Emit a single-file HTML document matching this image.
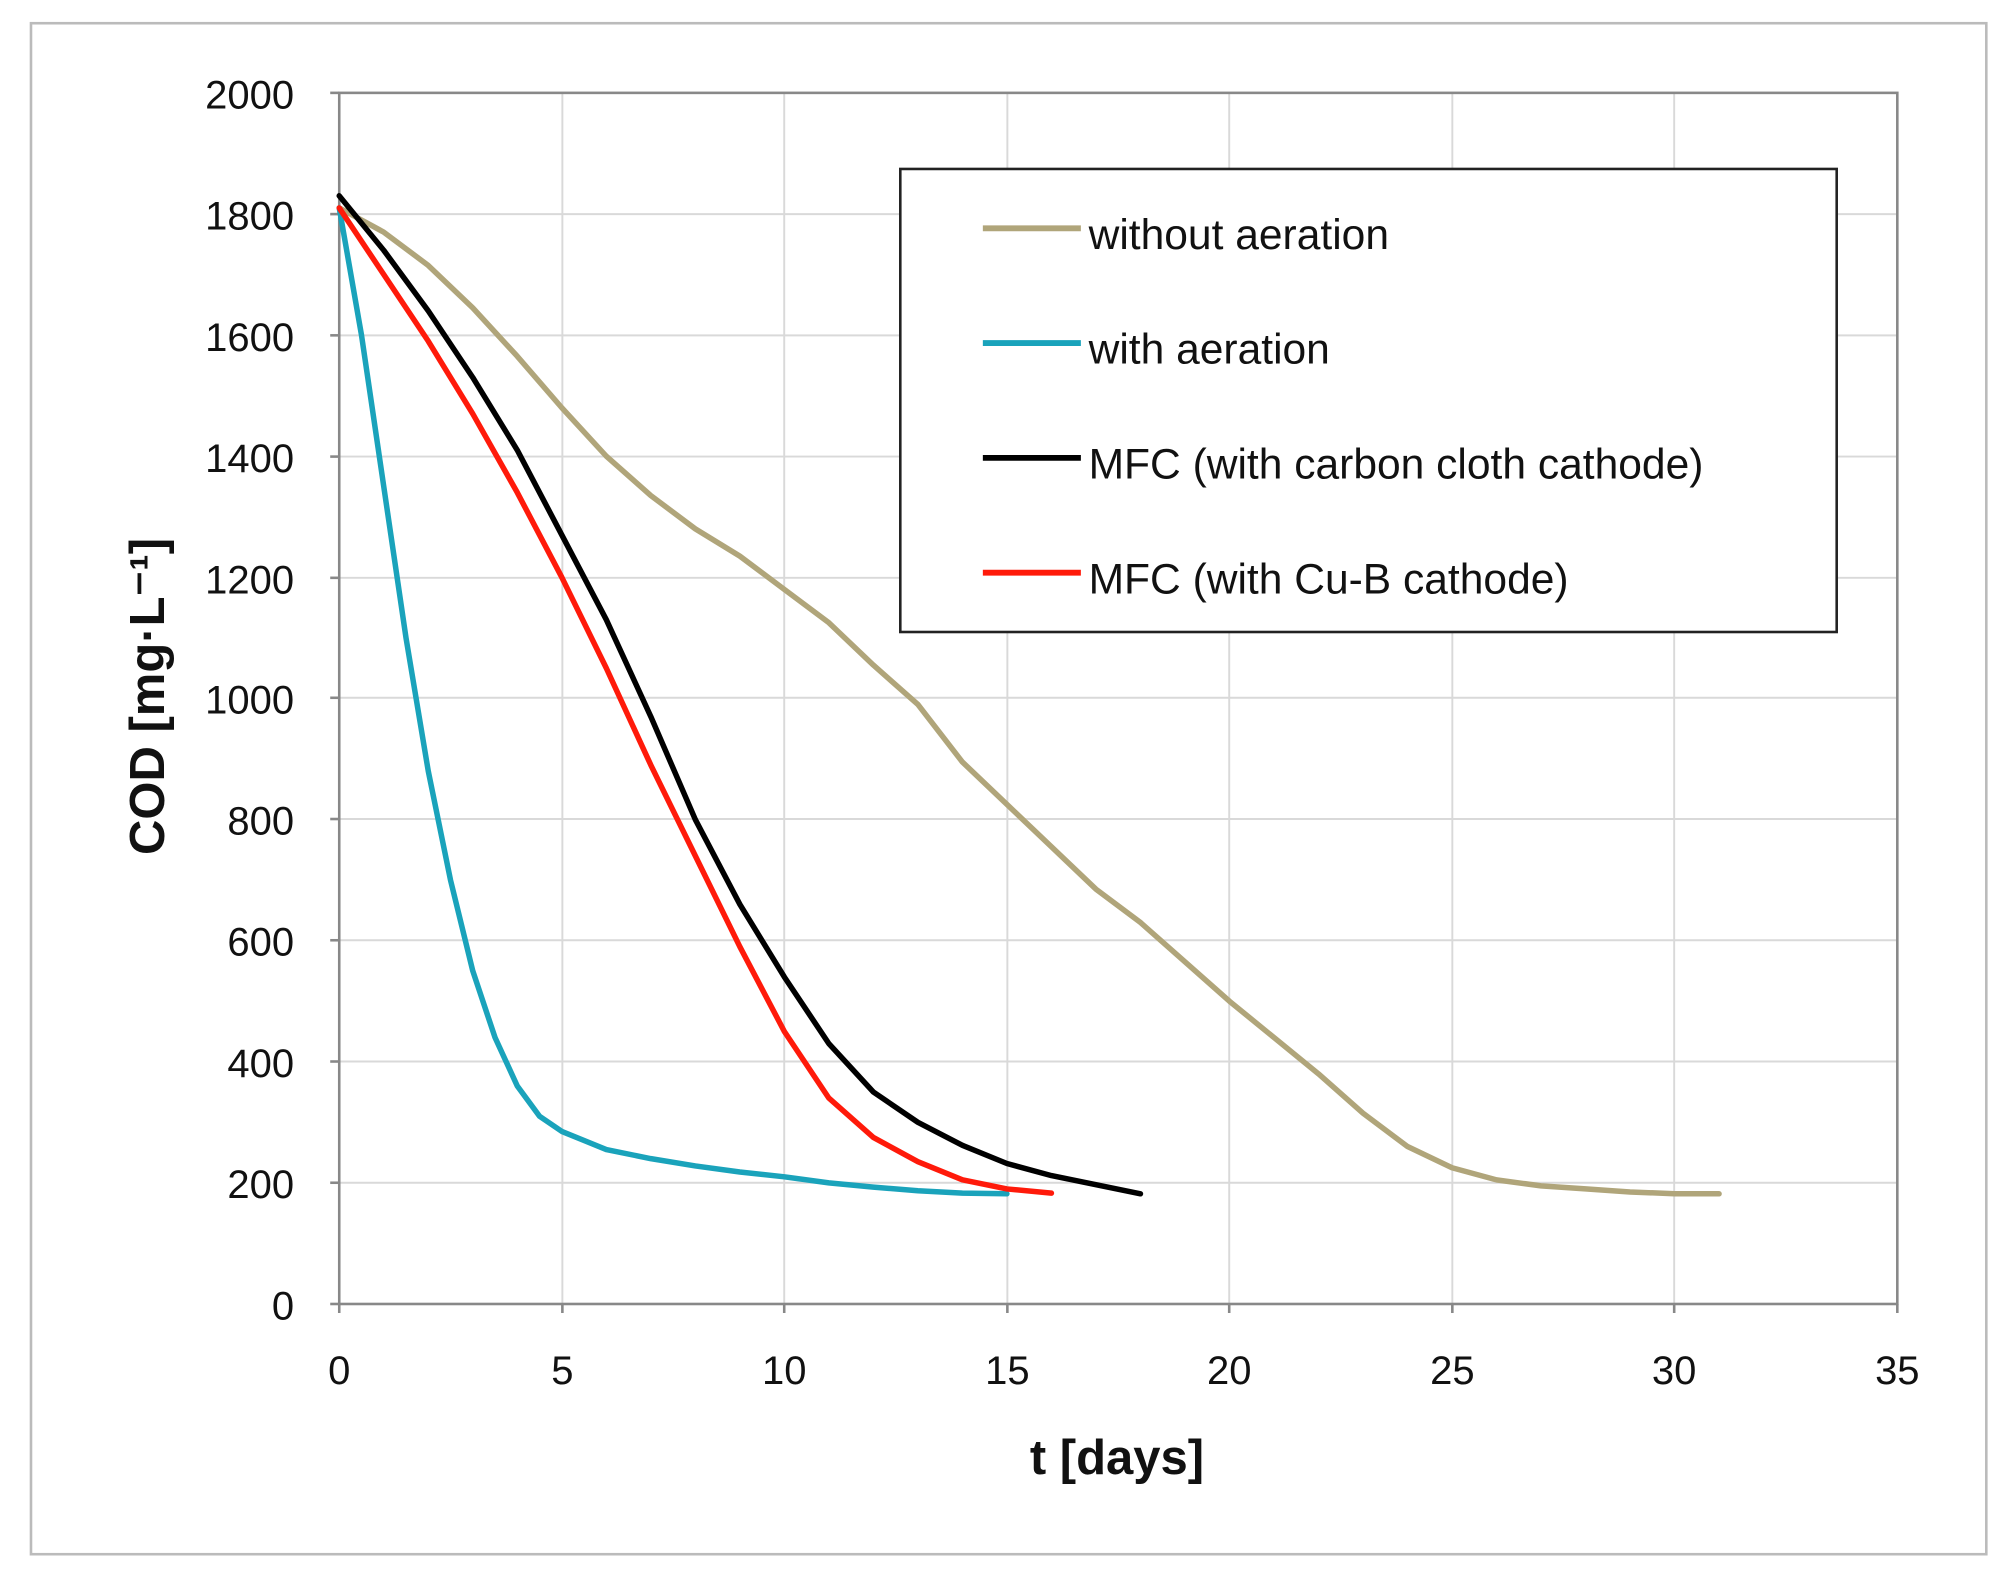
<!DOCTYPE html>
<html><head><meta charset="utf-8"><style>html,body{margin:0;padding:0;background:#fff}svg{display:block}</style></head>
<body>
<svg width="2016" height="1580" viewBox="0 0 1563 1225" xmlns="http://www.w3.org/2000/svg" font-family="'Liberation Sans', sans-serif">
<rect x="0" y="0" width="1563" height="1225" fill="#fff"/>
<rect x="24" y="18" width="1516" height="1187" fill="none" stroke="#bbb" stroke-width="2"/>
<g stroke="#d9d9d9" stroke-width="1.5">
<line x1="263" x2="1471" y1="72" y2="72"/><line x1="263" x2="1471" y1="166" y2="166"/><line x1="263" x2="1471" y1="260" y2="260"/><line x1="263" x2="1471" y1="354" y2="354"/><line x1="263" x2="1471" y1="448" y2="448"/><line x1="263" x2="1471" y1="541" y2="541"/><line x1="263" x2="1471" y1="635" y2="635"/><line x1="263" x2="1471" y1="729" y2="729"/><line x1="263" x2="1471" y1="823" y2="823"/><line x1="263" x2="1471" y1="917" y2="917"/>
<line y1="72" y2="1011" x1="436" x2="436"/><line y1="72" y2="1011" x1="608" x2="608"/><line y1="72" y2="1011" x1="781" x2="781"/><line y1="72" y2="1011" x1="953" x2="953"/><line y1="72" y2="1011" x1="1126" x2="1126"/><line y1="72" y2="1011" x1="1298" x2="1298"/>
</g>
<rect x="263" y="72" width="1208" height="939" fill="none" stroke="#888" stroke-width="2"/>
<g stroke="#888" stroke-width="2">
<line x1="256" x2="263" y1="72" y2="72"/><line x1="256" x2="263" y1="166" y2="166"/><line x1="256" x2="263" y1="260" y2="260"/><line x1="256" x2="263" y1="354" y2="354"/><line x1="256" x2="263" y1="448" y2="448"/><line x1="256" x2="263" y1="541" y2="541"/><line x1="256" x2="263" y1="635" y2="635"/><line x1="256" x2="263" y1="729" y2="729"/><line x1="256" x2="263" y1="823" y2="823"/><line x1="256" x2="263" y1="917" y2="917"/><line x1="256" x2="263" y1="1011" y2="1011"/>
<line y1="1011" y2="1018" x1="263" x2="263"/><line y1="1011" y2="1018" x1="436" x2="436"/><line y1="1011" y2="1018" x1="608" x2="608"/><line y1="1011" y2="1018" x1="781" x2="781"/><line y1="1011" y2="1018" x1="953" x2="953"/><line y1="1011" y2="1018" x1="1126" x2="1126"/><line y1="1011" y2="1018" x1="1298" x2="1298"/><line y1="1011" y2="1018" x1="1471" x2="1471"/>
</g>
<g font-size="31" fill="#111" text-anchor="end">
<text x="228" y="84">2000</text><text x="228" y="178">1800</text><text x="228" y="272">1600</text><text x="228" y="366">1400</text><text x="228" y="460">1200</text><text x="228" y="553">1000</text><text x="228" y="647">800</text><text x="228" y="741">600</text><text x="228" y="835">400</text><text x="228" y="929">200</text><text x="228" y="1023">0</text>
</g>
<g font-size="31" fill="#111" text-anchor="middle">
<text x="263" y="1073">0</text><text x="436" y="1073">5</text><text x="608" y="1073">10</text><text x="781" y="1073">15</text><text x="953" y="1073">20</text><text x="1126" y="1073">25</text><text x="1298" y="1073">30</text><text x="1471" y="1073">35</text>
</g>
<text x="866" y="1143" font-size="38" font-weight="bold" text-anchor="middle" fill="#111">t [days]</text>
<text transform="translate(127,540) rotate(-90)" font-size="38" font-weight="bold" text-anchor="middle" fill="#111">COD [mg·L⁻¹]</text>
<g transform="translate(263,1011) scale(34.51,-0.4695)" fill="none" stroke-linejoin="round" stroke-linecap="round">
<polyline vector-effect="non-scaling-stroke" stroke="#b0a57a" stroke-width="5.5" points="0,1810 1,1770 2,1715 3,1645 4,1565 5,1480 6,1400 7,1335 8,1280 9,1235 10,1180 11,1125 12,1055 13,990 14,895 15,825 16,755 17,685 18,630 19,565 20,500 21,440 22,380 23,315 24,260 25,225 26,205 27,195 28,190 29,185 30,182 31,182"/>
<polyline vector-effect="non-scaling-stroke" stroke="#1aa3bb" stroke-width="5.5" points="0,1810 0.5,1600 1,1350 1.5,1100 2,880 2.5,700 3,550 3.5,440 4,360 4.5,310 5,285 6,255 7,240 8,228 9,218 10,210 11,200 12,193 13,187 14,183 15,182"/>
<polyline vector-effect="non-scaling-stroke" stroke="#ff1a0a" stroke-width="5.5" points="0,1810 1,1700 2,1590 3,1470 4,1340 5,1200 6,1050 7,890 8,740 9,590 10,450 11,340 12,275 13,235 14,205 15,190 16,183"/>
<polyline vector-effect="non-scaling-stroke" stroke="#000" stroke-width="5.5" points="0,1830 1,1740 2,1640 3,1530 4,1410 5,1270 6,1130 7,970 8,800 9,660 10,540 11,430 12,350 13,300 14,262 15,232 16,212 17,197 18,182"/>
</g>
<rect x="698" y="131" width="726" height="359" fill="#fff" stroke="#222" stroke-width="2"/>
<g stroke-width="4.5">
<line x1="762" x2="838" y1="177" y2="177" stroke="#b0a57a"/>
<line x1="762" x2="838" y1="266" y2="266" stroke="#1aa3bb"/>
<line x1="762" x2="838" y1="355" y2="355" stroke="#000"/>
<line x1="762" x2="838" y1="444" y2="444" stroke="#ff1a0a"/>
</g>
<g font-size="33" fill="#111">
<text x="844" y="193">without aeration</text>
<text x="844" y="282">with aeration</text>
<text x="844" y="371">MFC (with carbon cloth cathode)</text>
<text x="844" y="460">MFC (with Cu-B cathode)</text>
</g>
</svg>
</body></html>
